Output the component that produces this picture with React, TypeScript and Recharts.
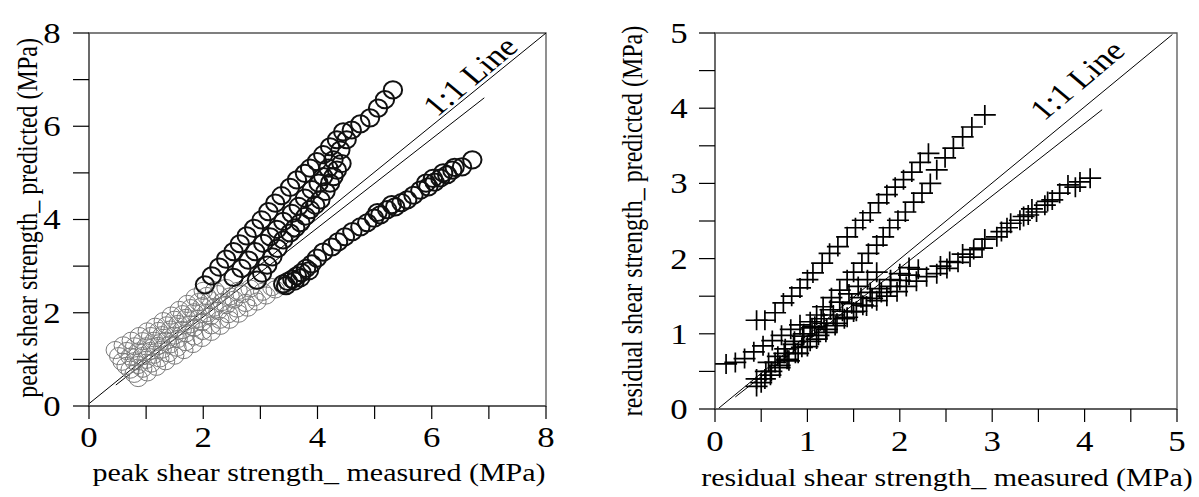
import { ReferenceArea, ReferenceLine, Scatter, ScatterChart, XAxis, YAxis } from 'recharts'

const FONT = '"Liberation Serif", "Times New Roman", serif'
// the source figure is stretched sideways, so text is too
const SX = 1.2

// ---- peak shear strength (left) ----
const peakTicks = [0, 1, 2, 3, 4, 5, 6, 7, 8]
const peakLabels = [0, 2, 4, 6, 8]

const peakGray1: [number, number][] = [
  [0.46, 1.2], [0.6, 1.3], [0.74, 1.4], [0.88, 1.5], [1.02, 1.6], [1.16, 1.7],
  [1.3, 1.82], [1.44, 1.94], [1.58, 2.06], [1.72, 2.19], [1.86, 2.33], [2.0, 2.47],
]
const peakGray2: [number, number][] = [
  [0.52, 1.07], [0.66, 1.18], [0.8, 1.28], [0.94, 1.39], [1.08, 1.5], [1.22, 1.61],
  [1.36, 1.73], [1.5, 1.85], [1.64, 1.97], [1.78, 2.1], [1.92, 2.23], [2.06, 2.36],
  [2.2, 2.48],
]
const peakGray3: [number, number][] = [
  [0.58, 0.95], [0.72, 1.06], [0.86, 1.17], [1.0, 1.28], [1.14, 1.4], [1.28, 1.52],
  [1.42, 1.64], [1.56, 1.76], [1.7, 1.89], [1.84, 2.01], [1.98, 2.14], [2.12, 2.27],
  [2.26, 2.4], [2.4, 2.53],
]
const peakGray4: [number, number][] = [
  [0.65, 0.86], [0.79, 0.96], [0.93, 1.07], [1.07, 1.18], [1.21, 1.29], [1.35, 1.4],
  [1.49, 1.51], [1.63, 1.63], [1.77, 1.75], [1.91, 1.87], [2.05, 1.99], [2.19, 2.11],
  [2.33, 2.23], [2.47, 2.35], [2.61, 2.47],
]
const peakGray5: [number, number][] = [
  [0.72, 0.78], [0.86, 0.88], [1.0, 0.99], [1.14, 1.1], [1.28, 1.21], [1.42, 1.32],
  [1.56, 1.44], [1.7, 1.56], [1.84, 1.68], [1.98, 1.8], [2.12, 1.92], [2.26, 2.04],
  [2.4, 2.16], [2.54, 2.28], [2.68, 2.4], [2.82, 2.52],
]
const peakGray6: [number, number][] = [
  [0.79, 0.69], [0.94, 0.8], [1.09, 0.91], [1.24, 1.02], [1.39, 1.13], [1.54, 1.25],
  [1.69, 1.37], [1.84, 1.49], [1.99, 1.61], [2.14, 1.73], [2.29, 1.85], [2.44, 1.97],
  [2.59, 2.09], [2.74, 2.21], [2.89, 2.33], [3.04, 2.45], [3.2, 2.55],
]
const peakGray7: [number, number][] = [
  [0.86, 0.6], [1.02, 0.72], [1.18, 0.84], [1.34, 0.96], [1.5, 1.08], [1.66, 1.2],
  [1.82, 1.33], [1.98, 1.46], [2.14, 1.59], [2.3, 1.72], [2.46, 1.85], [2.62, 1.98],
  [2.78, 2.11], [2.94, 2.24], [3.1, 2.37], [3.26, 2.5], [3.4, 2.58],
]
const peakUpperA: [number, number][] = [
  [2.03, 2.6], [2.15, 2.79], [2.28, 2.98], [2.4, 3.15], [2.53, 3.31], [2.64, 3.48],
  [2.76, 3.65], [2.89, 3.81], [3.02, 3.99], [3.14, 4.17], [3.26, 4.35], [3.37, 4.51],
  [3.52, 4.69], [3.64, 4.85], [3.78, 4.99], [3.87, 5.1], [3.99, 5.24], [4.1, 5.39],
  [4.22, 5.56], [4.34, 5.71], [4.45, 5.88], [4.6, 5.92], [4.75, 6.05], [4.92, 6.18],
  [5.06, 6.39], [5.18, 6.57], [5.32, 6.78],
]
const peakUpperB: [number, number][] = [
  [2.53, 2.76], [2.67, 2.95], [2.79, 3.13], [2.91, 3.31], [3.05, 3.49], [3.17, 3.63],
  [3.29, 3.79], [3.4, 3.96], [3.55, 4.13], [3.67, 4.28], [3.78, 4.46], [3.9, 4.64],
  [4.02, 4.78], [4.1, 4.92], [4.19, 5.1], [4.28, 5.28], [4.4, 5.49], [4.51, 5.71],
]
const peakUpperC: [number, number][] = [
  [2.94, 2.7], [3.03, 2.85], [3.12, 3.02], [3.21, 3.2], [3.3, 3.38], [3.4, 3.56],
  [3.52, 3.71], [3.61, 3.82], [3.7, 3.93], [3.79, 4.07], [3.87, 4.21], [3.96, 4.31],
  [4.05, 4.42], [4.14, 4.6], [4.22, 4.78], [4.28, 4.92], [4.34, 5.06], [4.42, 5.2],
]
const peakLower: [number, number][] = [
  [3.4, 2.62], [3.48, 2.67], [3.56, 2.72], [3.64, 2.79], [3.72, 2.86], [3.8, 2.95],
  [3.9, 3.05], [3.99, 3.17], [4.1, 3.3], [4.25, 3.41], [4.36, 3.52], [4.48, 3.63],
  [4.61, 3.74], [4.75, 3.84], [4.87, 3.93], [4.99, 4.03], [5.1, 4.1], [5.22, 4.21],
  [5.36, 4.27], [5.47, 4.36], [5.57, 4.42], [5.68, 4.52], [5.8, 4.63], [5.94, 4.7],
  [6.05, 4.8], [6.15, 4.89], [6.27, 4.96], [6.36, 5.06], [6.53, 5.13], [6.71, 5.28],
  [3.45, 2.58], [3.6, 2.68], [3.7, 2.75], [3.85, 2.9], [5.05, 4.15], [5.3, 4.32],
  [5.9, 4.78], [6.02, 4.88], [6.2, 5.0], [6.4, 5.12],
]
const peakOneToOne: [number, number][] = [[0, 0.05], [8, 8]]
const peakFit: [number, number][] = [[0.47, 0.45], [6.92, 6.61]]

// ---- residual shear strength (right) ----
const resTicks = [0, 0.5, 1, 1.5, 2, 2.5, 3, 3.5, 4, 4.5, 5]
const resLabels = [0, 1, 2, 3, 4, 5]

const resUpper1: [number, number][] = [
  [0.45, 1.18], [0.54, 1.18], [0.65, 1.28], [0.74, 1.41], [0.83, 1.5], [0.92, 1.61],
  [1.0, 1.72], [1.06, 1.81], [1.16, 1.94], [1.24, 2.07], [1.33, 2.16], [1.43, 2.29],
  [1.52, 2.41], [1.6, 2.51], [1.68, 2.61], [1.77, 2.74], [1.86, 2.85], [1.95, 2.95],
  [2.04, 3.05], [2.13, 3.15], [2.22, 3.28], [2.31, 3.4],
]
const resUpper2: [number, number][] = [
  [0.12, 0.6], [0.22, 0.62], [0.32, 0.67], [0.42, 0.76], [0.52, 0.84], [0.62, 0.91],
  [0.72, 0.98], [0.82, 1.06], [0.92, 1.12], [1.03, 1.16], [1.1, 1.25], [1.17, 1.36],
  [1.26, 1.48], [1.35, 1.58], [1.43, 1.72], [1.5, 1.82], [1.59, 1.94], [1.66, 2.07],
  [1.75, 2.18], [1.82, 2.29], [1.89, 2.41], [1.98, 2.51], [2.06, 2.62], [2.15, 2.75],
  [2.24, 2.87], [2.33, 3.0], [2.4, 3.18], [2.49, 3.34], [2.58, 3.47], [2.68, 3.62],
  [2.78, 3.75], [2.92, 3.91],
]
const resMid1: [number, number][] = [
  [0.45, 0.4], [0.55, 0.5], [0.65, 0.62], [0.75, 0.74], [0.85, 0.86], [0.95, 0.97],
  [1.05, 1.08], [1.15, 1.2], [1.25, 1.32], [1.35, 1.42], [1.45, 1.53], [1.55, 1.63],
  [1.65, 1.72], [1.75, 1.82],
]
const resMid2: [number, number][] = [
  [0.5, 0.35], [0.6, 0.45], [0.7, 0.55], [0.8, 0.64], [0.9, 0.74], [1.0, 0.83],
  [1.1, 0.93], [1.2, 1.02], [1.3, 1.11], [1.4, 1.2], [1.5, 1.29], [1.6, 1.38],
  [1.7, 1.47], [1.8, 1.55], [1.9, 1.63], [2.0, 1.71], [2.1, 1.78], [2.2, 1.86],
]
const resMid3: [number, number][] = [
  [0.58, 0.62], [0.68, 0.7], [0.76, 0.8], [0.86, 0.9], [0.96, 1.0], [1.08, 1.1],
  [1.18, 1.14], [1.28, 1.25], [1.38, 1.3], [1.48, 1.4], [1.58, 1.48], [1.68, 1.55],
  [1.78, 1.6], [1.9, 1.72], [2.0, 1.8], [2.1, 1.88],
]
const resLower: [number, number][] = [
  [0.45, 0.3], [0.54, 0.4], [0.61, 0.5], [0.7, 0.58], [0.78, 0.66], [0.87, 0.74],
  [0.94, 0.82], [1.03, 0.9], [1.12, 0.98], [1.21, 1.06], [1.32, 1.14], [1.43, 1.22],
  [1.53, 1.3], [1.64, 1.37], [1.75, 1.44], [1.86, 1.5], [1.97, 1.56], [2.07, 1.63],
  [2.18, 1.7], [2.29, 1.76], [2.4, 1.8], [2.51, 1.87], [2.63, 1.95], [2.76, 2.02],
  [2.89, 2.14], [3.05, 2.29], [3.16, 2.41], [3.3, 2.51], [3.39, 2.58], [3.48, 2.62],
  [3.57, 2.71], [3.65, 2.78], [3.73, 2.87], [3.9, 2.95], [4.06, 3.07],
  [2.44, 1.9], [2.54, 1.96], [2.68, 2.06], [2.8, 2.12], [2.92, 2.26], [3.1, 2.36],
  [3.2, 2.47], [3.34, 2.56], [3.43, 2.66], [3.6, 2.76], [3.82, 2.98], [3.95, 3.02],
]
const resOneToOne: [number, number][] = [[0.04, 0.01], [4.95, 4.98]]
const resFit: [number, number][] = [[0.22, 0.16], [4.19, 3.98]]

const pts = (a: [number, number][]) => a.map(([x, y]) => ({ x, y }))

const Ring = (color: string, width: number) => (p: any) => (
  <ellipse cx={p.cx} cy={p.cy} rx={9.2} ry={8.6} fill="none" stroke={color} strokeWidth={width} />
)

const Plus = (p: any) => (
  <path
    d={`M${p.cx - 11},${p.cy}h22M${p.cx},${p.cy - 10}v20`}
    stroke="#000"
    strokeWidth={1.7}
    fill="none"
  />
)

function Txt({ x, y, size, rotate = 0, children }: any) {
  return (
    <text
      transform={`translate(${x},${y}) scale(${SX},1) rotate(${rotate})`}
      textAnchor="middle"
      dominantBaseline="central"
      fontFamily={FONT}
      fontSize={size}
      fill="#000"
    >
      {children}
    </text>
  )
}

const xTick = (labels: number[], ty: number) => (p: any) =>
  labels.includes(p.payload.value) ? (
    <Txt x={p.x} y={ty} size={29}>{p.payload.value}</Txt>
  ) : (
    <g />
  )

const yTick = (labels: number[], tx: number) => (p: any) =>
  labels.includes(p.payload.value) ? (
    <Txt x={tx} y={p.y} size={29}>{p.payload.value}</Txt>
  ) : (
    <g />
  )

const axisProps = {
  type: 'number' as const,
  allowDataOverflow: true,
  interval: 0 as const,
  axisLine: { stroke: '#555', strokeWidth: 1.3 },
  tickLine: { stroke: '#000', strokeWidth: 1.2 },
}

function PeakChart() {
  return (
    <ScatterChart width={600} height={497} margin={{ top: 33, right: 54, bottom: 0, left: 0 }}>
      <XAxis
        {...axisProps}
        dataKey="x"
        domain={[0, 8]}
        ticks={peakTicks}
        height={91}
        tickSize={13}
        tick={xTick(peakLabels, 437)}
      />
      <YAxis
        {...axisProps}
        dataKey="y"
        domain={[0, 8]}
        ticks={peakTicks}
        width={89}
        tickSize={16}
        tick={yTick(peakLabels, 52)}
      />
      <ReferenceArea x1={0} x2={8} y1={0} y2={8} fill="none" stroke="#555" strokeWidth={1.3} />
      <ReferenceLine segment={pts(peakOneToOne)} stroke="#000" strokeWidth={1} />
      <ReferenceLine segment={pts(peakFit)} stroke="#000" strokeWidth={1} />
      {[peakGray1, peakGray2, peakGray3, peakGray4, peakGray5, peakGray6, peakGray7].map((s, i) => (
        <Scatter key={'g' + i} data={pts(s)} shape={Ring('#7a7a7a', 1)} isAnimationActive={false} />
      ))}
      {[peakLower, peakUpperC, peakUpperB, peakUpperA].map((s, i) => (
        <Scatter key={'b' + i} data={pts(s)} shape={Ring('#111', 2)} isAnimationActive={false} />
      ))}
      <Txt x={470} y={76} size={29} rotate={-45}>1:1 Line</Txt>
      <Txt x={319} y={472} size={25}>peak shear strength_ measured (MPa)</Txt>
      <Txt x={27} y={218} size={24} rotate={-90}>peak shear strength_ predicted (MPa)</Txt>
    </ScatterChart>
  )
}

function ResidualChart() {
  return (
    <ScatterChart width={599} height={497} margin={{ top: 33, right: 22, bottom: 0, left: 0 }}>
      <XAxis
        {...axisProps}
        dataKey="x"
        domain={[0, 5]}
        ticks={resTicks}
        height={88}
        tickSize={13}
        tick={xTick(resLabels, 441)}
      />
      <YAxis
        {...axisProps}
        dataKey="y"
        domain={[0, 5]}
        ticks={resTicks}
        width={115}
        tickSize={16}
        tick={yTick(resLabels, 79)}
      />
      <ReferenceArea x1={0} x2={5} y1={0} y2={5} fill="none" stroke="#555" strokeWidth={1.3} />
      <ReferenceLine segment={pts(resOneToOne)} stroke="#000" strokeWidth={1} />
      <ReferenceLine segment={pts(resFit)} stroke="#000" strokeWidth={1} />
      {[resLower, resMid3, resMid2, resMid1, resUpper2, resUpper1].map((s, i) => (
        <Scatter key={'p' + i} data={pts(s)} shape={Plus} isAnimationActive={false} />
      ))}
      <Txt x={477} y={80} size={29} rotate={-45}>1:1 Line</Txt>
      <Txt x={347} y={477} size={25}>residual shear strength_ measured (MPa)</Txt>
      <Txt x={32} y={221} size={24} rotate={-90}>residual shear strength_ predicted (MPa)</Txt>
    </ScatterChart>
  )
}

export default function App() {
  return (
    <div style={{ position: 'absolute', left: 0, top: 0, width: 1199, height: 497, background: '#fff' }}>
      <div style={{ position: 'absolute', left: 0, top: 0 }}>
        <PeakChart />
      </div>
      <div style={{ position: 'absolute', left: 600, top: 0 }}>
        <ResidualChart />
      </div>
    </div>
  )
}
